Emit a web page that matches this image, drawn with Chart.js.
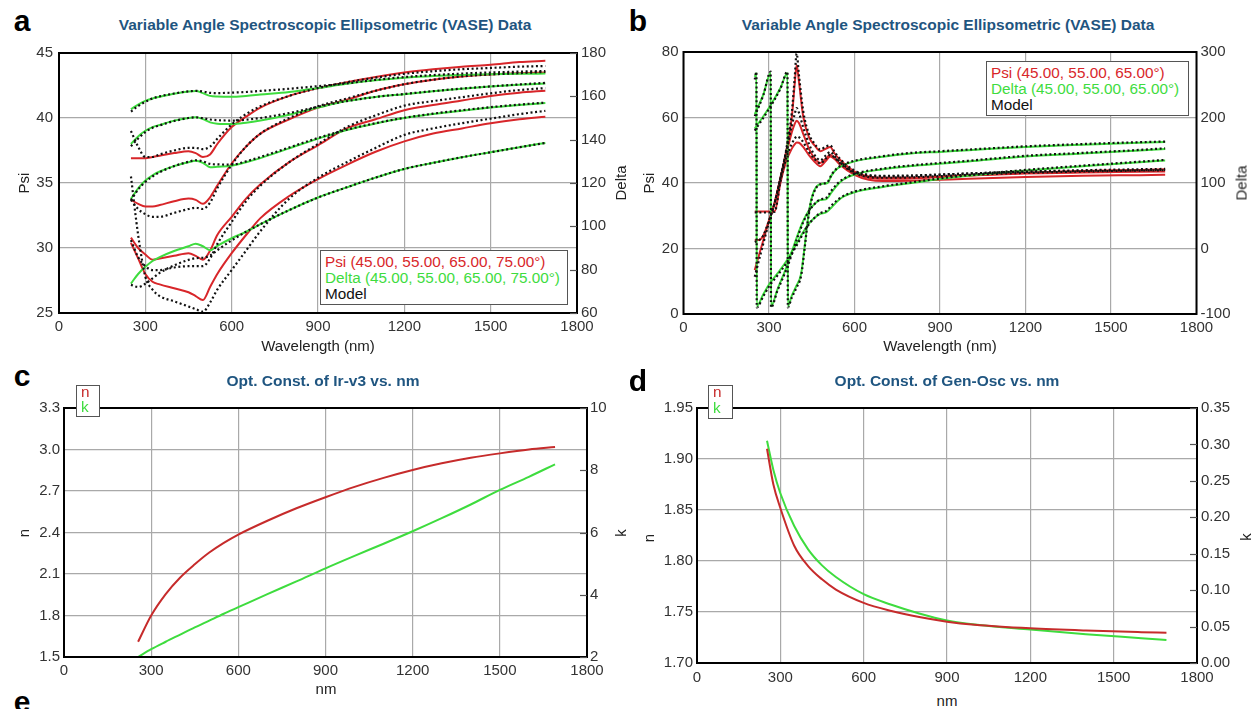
<!DOCTYPE html>
<html><head><meta charset="utf-8">
<script src="https://cdn.jsdelivr.net/npm/chart.js@4.4.0/dist/chart.umd.min.js"></script>
<style>
html,body{margin:0;padding:0;background:#fff;width:1252px;height:709px;overflow:hidden;font-family:"Liberation Sans",Arial,sans-serif;}
canvas{position:absolute;}
.t{position:absolute;white-space:nowrap;transform:translate(-50%,-50%);line-height:1;}
.ttl{font-weight:bold;font-size:15.5px;color:#1f5580;}
.lt{font-weight:bold;font-size:30px;color:#000;}
.ax{font-size:15px;color:#222;}
.rot{transform:translate(-50%,-50%) rotate(-90deg);}
.box{position:absolute;background:#fff;border:1.5px solid #555;box-sizing:border-box;}
.lg{position:absolute;white-space:nowrap;font-size:15.3px;line-height:1;transform:translateY(-50%);}
</style></head>
<body>
<canvas id="ca" width="630" height="300" style="left:0px;top:38px;width:630px;height:300px"></canvas>
<canvas id="cb" width="622" height="300" style="left:630px;top:38px;width:622px;height:300px"></canvas>
<canvas id="cc" width="630" height="285" style="left:0px;top:395px;width:630px;height:285px"></canvas>
<canvas id="cd" width="622" height="295" style="left:630px;top:395px;width:622px;height:295px"></canvas>

<div class="t lt" style="left:22px;top:21px">a</div>
<div class="t lt" style="left:638px;top:21px">b</div>
<div class="t lt" style="left:22px;top:376px">c</div>
<div class="t lt" style="left:638px;top:381px">d</div>
<div class="t lt" style="left:22px;top:702px">e</div>

<div class="t ttl" style="left:325px;top:25px">Variable Angle Spectroscopic Ellipsometric (VASE) Data</div>
<div class="t ttl" style="left:948px;top:25px">Variable Angle Spectroscopic Ellipsometric (VASE) Data</div>
<div class="t ttl" style="left:323px;top:381px">Opt. Const. of Ir-v3 vs. nm</div>
<div class="t ttl" style="left:947px;top:381px">Opt. Const. of Gen-Osc vs. nm</div>

<div class="t ax rot" style="left:23px;top:183px">Psi</div>
<div class="t ax rot" style="left:620px;top:183px">Delta</div>
<div class="t ax" style="left:318px;top:345px">Wavelength (nm)</div>
<div class="t ax rot" style="left:648px;top:183px">Psi</div>
<div class="t ax rot" style="left:1241px;top:183px">Delta</div>
<div class="t ax" style="left:940px;top:345px">Wavelength (nm)</div>
<div class="t ax rot" style="left:23px;top:533px">n</div>
<div class="t ax rot" style="left:620px;top:533px">k</div>
<div class="t ax" style="left:326px;top:688px">nm</div>
<div class="t ax rot" style="left:648px;top:538px">n</div>
<div class="t ax rot" style="left:1245px;top:537px">k</div>
<div class="t ax" style="left:947px;top:700px">nm</div>

<div class="box" style="left:320px;top:250px;width:248px;height:55px"></div>
<div class="lg" style="left:325px;top:262px;color:#d8262a">Psi (45.00, 55.00, 65.00, 75.00°)</div>
<div class="lg" style="left:325px;top:278px;color:#3edc3e">Delta (45.00, 55.00, 65.00, 75.00°)</div>
<div class="lg" style="left:325px;top:294px;color:#111">Model</div>

<div class="box" style="left:986px;top:61px;width:203px;height:55px"></div>
<div class="lg" style="left:991px;top:73px;color:#d8262a">Psi (45.00, 55.00, 65.00°)</div>
<div class="lg" style="left:991px;top:89px;color:#3edc3e">Delta (45.00, 55.00, 65.00°)</div>
<div class="lg" style="left:991px;top:105px;color:#111">Model</div>

<div class="box" style="left:76px;top:385px;width:24px;height:32px"></div>
<div class="lg" style="left:81px;top:392px;color:#c62b2b">n</div>
<div class="lg" style="left:81px;top:407px;color:#3edc3e">k</div>

<div class="box" style="left:708px;top:385px;width:25px;height:34px"></div>
<div class="lg" style="left:713px;top:392px;color:#c62b2b">n</div>
<div class="lg" style="left:713px;top:408px;color:#3edc3e">k</div>

<script>
// ---------- Panel a (Psi left 25-45, Delta right 60-180) ----------
const wlA = [250, 275, 300, 325, 350, 400, 450, 475, 500, 525, 550, 600, 650, 700, 800, 900, 1000, 1100, 1200, 1300, 1400, 1500, 1600, 1690];
const psiA1 = [36.9, 36.9, 36.9, 37.0, 37.1, 37.3, 37.45, 37.3, 37.0, 37.2, 38.0, 39.3, 40.1, 40.8, 41.7, 42.3, 42.75, 43.15, 43.5, 43.75, 43.95, 44.1, 44.3, 44.4];
const psiA2 = [33.7, 33.4, 33.2, 33.2, 33.3, 33.6, 33.8, 33.7, 33.4, 33.9, 34.8, 36.5, 37.8, 38.8, 39.9, 40.8, 41.4, 42.1, 42.6, 42.95, 43.2, 43.35, 43.45, 43.5];
const psiA3 = [30.8, 30.0, 29.5, 29.1, 29.2, 29.4, 29.6, 29.4, 29.1, 29.8, 31.0, 32.4, 33.8, 34.9, 36.6, 37.9, 39.2, 39.9, 40.6, 41.0, 41.35, 41.7, 41.95, 42.1];
const psiA4 = [30.4, 29.2, 28.0, 27.4, 27.2, 26.9, 26.6, 26.3, 26.0, 27.0, 28.0, 29.6, 31.0, 32.3, 34.0, 35.3, 36.4, 37.4, 38.2, 38.8, 39.2, 39.6, 39.9, 40.1];
const deltaA1 = [154.1, 156.2, 157.9, 159.0, 159.8, 161.2, 162.2, 162.5, 161.5, 160.2, 159.9, 159.8, 160.2, 160.8, 162.0, 163.8, 165.8, 167.4, 168.6, 169.4, 169.9, 170.2, 170.4, 170.5];
const deltaA2 = [138.0, 141.5, 144.1, 145.8, 146.8, 148.8, 150.0, 150.3, 149.5, 148.0, 147.4, 147.2, 147.8, 148.8, 151.5, 154.8, 157.8, 159.7, 161.0, 162.3, 163.5, 164.5, 165.3, 165.9];
const deltaA3 = [112.7, 117.5, 121.1, 123.5, 125.3, 127.8, 129.6, 130.3, 129.3, 127.3, 127.5, 128.0, 129.6, 131.5, 136.0, 140.5, 144.5, 147.5, 150.0, 151.8, 153.4, 154.8, 156.0, 156.9];
const deltaA4 = [73.6, 78.0, 81.3, 84.0, 85.8, 88.6, 90.8, 92.0, 90.8, 89.0, 91.0, 94.5, 97.5, 101.0, 107.5, 113.3, 118.0, 122.5, 126.5, 129.3, 131.9, 134.2, 136.5, 138.5];
const modelPsiA1 = [39.0, 37.8, 37.0, 37.0, 37.2, 37.5, 37.7, 37.7, 37.6, 37.8, 38.4, 39.5, 40.3, 40.9, 41.7, 42.3, 42.75, 43.1, 43.4, 43.6, 43.75, 43.85, 43.95, 44.0];
const modelPsiA2 = [33.7, 33.0, 32.6, 32.4, 32.4, 32.7, 33.0, 33.1, 33.0, 33.5, 34.6, 36.4, 37.8, 38.8, 40.0, 40.9, 41.5, 42.1, 42.6, 42.95, 43.2, 43.35, 43.45, 43.55];
const modelPsiA3 = [30.6, 29.3, 28.6, 28.3, 28.3, 28.5, 28.6, 28.6, 28.6, 29.2, 30.3, 32.0, 33.6, 34.8, 36.6, 38.0, 39.3, 40.2, 40.95, 41.3, 41.6, 41.9, 42.15, 42.3];
const modelPsiA4 = [35.5, 31.0, 27.8, 26.8, 26.3, 25.9, 25.5, 25.3, 25.1, 25.8, 26.8, 28.3, 29.8, 31.3, 33.8, 35.4, 36.6, 37.7, 38.7, 39.2, 39.6, 39.95, 40.3, 40.55];
const modelDeltaA1 = [153.0, 155.5, 157.5, 159.0, 160.0, 161.3, 162.3, 162.5, 162.2, 161.6, 161.5, 161.7, 162.0, 162.5, 163.5, 164.7, 166.0, 167.6, 168.9, 169.8, 170.5, 171.0, 171.4, 171.7];
const modelDeltaA2 = [137.0, 140.5, 143.5, 145.5, 146.6, 148.6, 150.0, 150.3, 149.9, 149.3, 149.0, 148.8, 149.2, 150.0, 152.3, 155.2, 157.8, 159.7, 161.1, 162.4, 163.6, 164.6, 165.5, 166.2];
const modelDeltaA3 = [112.0, 117.0, 120.5, 123.0, 125.0, 127.8, 129.8, 130.5, 130.0, 128.8, 128.6, 128.5, 130.0, 132.0, 136.4, 140.8, 144.6, 147.6, 150.1, 152.0, 153.6, 155.0, 156.2, 157.1];
const modelDeltaA4 = [73.0, 72.0, 73.5, 76.0, 78.5, 82.0, 84.5, 85.3, 85.5, 86.5, 89.0, 93.5, 97.5, 101.0, 107.5, 113.3, 118.0, 122.5, 126.5, 129.3, 131.9, 134.2, 136.5, 138.5];

// ---------- Panel b (Psi left 0-80, Delta right -100-300) ----------
const wlB = [250, 265, 280, 300, 320, 340, 360, 380, 390, 397, 405, 420, 440, 460, 480, 500, 515, 530, 550, 600, 650, 700, 800, 900, 1000, 1200, 1400, 1600, 1690];
const psiB1 = [13.4, 18.0, 22.5, 28.5, 34.0, 41.5, 49.5, 60.0, 70.0, 76.0, 71.0, 60.3, 54.0, 51.5, 49.7, 50.5, 51.0, 49.0, 47.0, 43.5, 42.0, 41.6, 41.6, 41.9, 42.3, 42.9, 43.2, 43.4, 43.5];
const psiB2 = [22.6, 22.6, 24.0, 28.5, 34.0, 41.3, 48.5, 55.5, 58.0, 59.0, 58.3, 55.0, 50.5, 47.5, 46.1, 47.5, 48.6, 47.5, 45.8, 43.0, 41.6, 41.3, 41.4, 41.8, 42.3, 43.1, 43.7, 44.0, 44.2];
const psiB3 = [31.3, 31.3, 31.3, 31.3, 31.4, 40.0, 46.5, 50.5, 51.8, 52.4, 52.3, 51.0, 48.5, 46.5, 45.1, 46.8, 48.1, 47.3, 45.5, 42.5, 41.0, 40.6, 40.7, 41.0, 41.3, 41.8, 42.2, 42.4, 42.5];
const modelPsiB1 = [11.4, 16.5, 21.5, 28.0, 34.0, 41.5, 50.0, 61.5, 72.0, 79.5, 73.0, 62.0, 55.0, 52.0, 50.2, 51.2, 51.5, 49.5, 47.3, 43.8, 42.5, 42.2, 42.3, 42.6, 42.9, 43.4, 43.7, 43.9, 44.0];
const modelPsiB2 = [22.0, 22.5, 24.0, 28.5, 34.0, 41.5, 49.5, 57.5, 61.0, 62.9, 61.5, 57.0, 52.0, 48.5, 47.0, 48.5, 49.5, 48.2, 46.3, 43.3, 42.2, 42.0, 42.1, 42.5, 42.9, 43.5, 43.9, 44.2, 44.3];
const modelPsiB3 = [31.0, 31.0, 31.0, 31.0, 31.2, 40.5, 47.5, 52.0, 53.5, 54.2, 54.0, 52.5, 49.5, 47.3, 46.0, 47.5, 48.6, 47.8, 46.0, 43.0, 41.8, 41.6, 41.7, 42.1, 42.5, 43.1, 43.5, 43.8, 43.9];
const wlDeltaB1 = [250, 300, 340, 365, 366, 380, 395, 413, 425, 436, 448, 466, 490, 505, 520, 540, 560, 600, 700, 800, 900, 1000, 1200, 1400, 1600, 1690];
const deltaB1 = [183, 215, 245, 268, -88, -72, -58, -38, 3, 43, 74, 94, 99, 100, 112, 122, 127, 133, 140, 145, 147.5, 150, 155, 158.5, 161.5, 162.5];
const modelDeltaB1 = [180, 213, 244, 270, -90, -75, -61, -41, 0, 41, 72, 93, 99, 101, 113, 123, 128, 134, 141, 146, 148.5, 151, 156, 159.5, 162.3, 163.3];
const wlDeltaB2 = [250, 280, 306, 307, 330, 360, 380, 400, 420, 440, 460, 480, 500, 520, 540, 560, 600, 700, 800, 900, 1000, 1200, 1400, 1600, 1690];
const deltaB2 = [205, 235, 268, -88, -62, -30, -5, 20, 42, 58, 68, 74, 75, 86, 97, 105, 113, 121, 126, 129.5, 133, 140.5, 145, 149.5, 152];
const modelDeltaB2 = [202, 234, 270, -90, -64, -33, -9, 17, 40, 57, 68, 75, 77, 89, 99, 106, 114, 122, 127, 130.5, 134, 141.5, 146, 150.5, 153];
const wlDeltaB3 = [250, 256, 257, 280, 300, 330, 363, 380, 400, 420, 440, 460, 480, 500, 520, 540, 560, 600, 700, 800, 900, 1000, 1200, 1400, 1600, 1690];
const deltaB3 = [262, 268, -88, -70, -55, -38, -18, -5, 10, 25, 38, 47, 53, 55, 63, 72, 79, 86, 94, 100, 106, 111, 119, 125.5, 131.5, 134.3];
const modelDeltaB3 = [258, 270, -90, -73, -58, -41, -21, -8, 7, 23, 37, 47, 54, 57, 66, 74, 80, 87, 95, 101, 107, 112, 120, 126.5, 132.5, 135.3];

// ---------- Panel c (n left 1.5-3.3, k right 2-10) ----------
const wlC = [255, 300, 350, 400, 450, 500, 550, 600, 700, 800, 900, 1000, 1100, 1200, 1300, 1400, 1500, 1600, 1690];
const nC = [1.61, 1.80, 1.955, 2.075, 2.17, 2.255, 2.325, 2.385, 2.485, 2.575, 2.655, 2.73, 2.795, 2.852, 2.90, 2.94, 2.972, 3.0, 3.018];
const kC = [2.0, 2.25, 2.49, 2.72, 2.95, 3.17, 3.39, 3.6, 4.02, 4.43, 4.85, 5.25, 5.64, 6.04, 6.46, 6.9, 7.37, 7.79, 8.19];

// ---------- Panel d (n left 1.70-1.95, k right 0-0.35) ----------
const wlD = [252, 275, 300, 350, 400, 450, 500, 600, 700, 800, 900, 1000, 1200, 1400, 1600, 1690];
const nD = [1.91, 1.875, 1.852, 1.815, 1.795, 1.782, 1.772, 1.759, 1.751, 1.745, 1.7405, 1.7375, 1.734, 1.7318, 1.7302, 1.7296];
const kD = [0.305, 0.265, 0.233, 0.188, 0.156, 0.134, 0.118, 0.0944, 0.080, 0.068, 0.0585, 0.053, 0.046, 0.0395, 0.034, 0.0315];

const RED = '#d8262a', RED2 = '#c62b2b', GREEN = '#3edc3e', BLACK = '#111';
const FONT = '"Liberation Sans", Arial, sans-serif';

function pts(xs, ys) { return xs.map((x, i) => ({ x: x, y: ys[i] })); }
function line(xs, ys, color, axis, model) {
  return {
    data: pts(xs, ys), yAxisID: axis, borderColor: color,
    borderWidth: model ? 2.2 : 2, borderDash: model ? [2, 2.6] : [],
    pointRadius: 0, fill: false, cubicInterpolationMode: 'monotone',
    order: model ? 0 : 1
  };
}

const frame = { id: 'frame', afterDatasetsDraw(c) {
  const a = c.chartArea, x = c.ctx; x.save(); x.strokeStyle = '#000'; x.lineWidth = 2;
  x.strokeRect(a.left, a.top, a.right - a.left, a.bottom - a.top); x.restore(); } };
const innerTicks = { id: 'innerTicks', afterDatasetsDraw(c, args, opts) {
  if (!opts.len) return; const s = c.scales.y2, x = c.ctx; x.save(); x.strokeStyle = '#555'; x.lineWidth = 1.2;
  s.ticks.forEach(t => { const y = Math.round(s.getPixelForValue(t.value)) + 0.5; x.beginPath(); x.moveTo(s.left - opts.len, y); x.lineTo(s.left, y); x.stroke(); });
  x.restore(); } };

function makeChart(id, g, datasets, yl, yr) {
  const font = { family: FONT, size: 15 };
  const grid = { color: '#a9a9a9', lineWidth: 1.2, drawTicks: false };
  return new Chart(document.getElementById(id), {
    type: 'line',
    data: { datasets: datasets },
    options: {
      responsive: false, animation: false, events: [],
      layout: { padding: { top: g.top, left: 0, right: 0, bottom: 0 } },
      plugins: { legend: { display: false }, tooltip: { enabled: false }, innerTicks: { len: g.tickLen || 0 } },
      scales: {
        x: { type: 'linear', position: 'bottom', min: 0, max: 1800,
             ticks: { stepSize: 300, padding: g.xpad, font: font, color: '#333', maxRotation: 0, autoSkip: false, callback: v => String(v) },
             grid: grid, border: { display: false }, afterFit: s => { s.height = g.xh; } },
        y: { position: 'left', min: yl.min, max: yl.max,
             ticks: { stepSize: yl.step, padding: g.lpad, font: font, color: '#333', autoSkip: false, callback: v => yl.fmt(v) },
             grid: grid, border: { display: false }, afterFit: s => { s.width = g.lw; } },
        y2: { position: 'right', min: yr.min, max: yr.max,
             ticks: { stepSize: yr.step, padding: g.rpad, font: font, color: '#333', autoSkip: false, callback: v => yr.fmt(v) },
             grid: { display: false, drawTicks: false }, border: { display: false }, afterFit: s => { s.width = g.rw; } }
      }
    },
    plugins: [frame, innerTicks]
  });
}
const fInt = v => String(Math.round(v));
const f1 = v => v.toFixed(1);
const f2 = v => v.toFixed(2);

makeChart('ca', { top: 14, xh: 25, lw: 59, rw: 53, xpad: 5, lpad: 6, rpad: 4, tickLen: 7 }, [
  line(wlA, modelPsiA1, BLACK, 'y', true), line(wlA, modelPsiA2, BLACK, 'y', true),
  line(wlA, modelPsiA3, BLACK, 'y', true), line(wlA, modelPsiA4, BLACK, 'y', true),
  line(wlA, modelDeltaA1, BLACK, 'y2', true), line(wlA, modelDeltaA2, BLACK, 'y2', true),
  line(wlA, modelDeltaA3, BLACK, 'y2', true), line(wlA, modelDeltaA4, BLACK, 'y2', true),
  line(wlA, deltaA1, GREEN, 'y2'), line(wlA, deltaA2, GREEN, 'y2'),
  line(wlA, deltaA3, GREEN, 'y2'), line(wlA, deltaA4, GREEN, 'y2'),
  line(wlA, psiA1, RED, 'y'), line(wlA, psiA2, RED, 'y'),
  line(wlA, psiA3, RED, 'y'), line(wlA, psiA4, RED, 'y')
], { min: 25, max: 45, step: 5, fmt: fInt }, { min: 60, max: 180, step: 20, fmt: fInt });

makeChart('cb', { top: 14, xh: 24, lw: 53.5, rw: 55.5, xpad: 5, lpad: 5, rpad: 4, tickLen: 0 }, [
  line(wlB, modelPsiB1, BLACK, 'y', true), line(wlB, modelPsiB2, BLACK, 'y', true), line(wlB, modelPsiB3, BLACK, 'y', true),
  line(wlDeltaB1, modelDeltaB1, BLACK, 'y2', true), line(wlDeltaB2, modelDeltaB2, BLACK, 'y2', true), line(wlDeltaB3, modelDeltaB3, BLACK, 'y2', true),
  line(wlDeltaB1, deltaB1, GREEN, 'y2'), line(wlDeltaB2, deltaB2, GREEN, 'y2'), line(wlDeltaB3, deltaB3, GREEN, 'y2'),
  line(wlB, psiB1, RED, 'y'), line(wlB, psiB2, RED, 'y'), line(wlB, psiB3, RED, 'y')
], { min: 0, max: 80, step: 20, fmt: fInt }, { min: -100, max: 300, step: 100, fmt: fInt });

makeChart('cc', { top: 12, xh: 23, lw: 64, rw: 43, xpad: 5, lpad: 4, rpad: 3, tickLen: 7 }, [
  line(wlC, kC, GREEN, 'y2'), line(wlC, nC, RED2, 'y')
], { min: 1.5, max: 3.3, step: 0.3, fmt: f1 }, { min: 2, max: 10, step: 2, fmt: fInt });

makeChart('cd', { top: 13, xh: 27, lw: 67, rw: 55, xpad: 6, lpad: 4, rpad: 4, tickLen: 7 }, [
  line(wlD, nD, RED2, 'y'), line(wlD, kD, GREEN, 'y2')
], { min: 1.70, max: 1.95, step: 0.05, fmt: f2 }, { min: 0, max: 0.35, step: 0.05, fmt: f2 });
</script>
</body></html>
